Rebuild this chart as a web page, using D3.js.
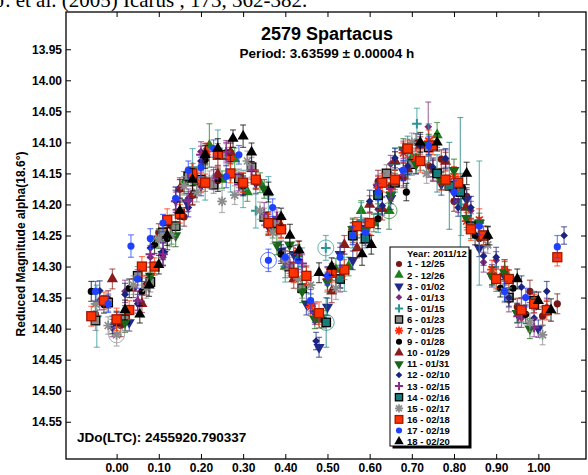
<!DOCTYPE html>
<html>
<head>
<meta charset="utf-8">
<script src="https://cdn.jsdelivr.net/npm/d3@7"></script>
<style>
  body { margin: 0; background: #fff; }
  svg { display: block; font-family: "Liberation Sans", Arial, sans-serif; }
</style>
</head>
<body>
<script>
// [phase, reduced mag, error, ringed]
const s1 = [[-0.05,14.377,0.016],[-0.02,14.353,0.014],[0.01,14.395,0.018],[0.04,14.335,0.015],[0.07,14.33,0.016],[0.10,14.245,0.014],[0.13,14.235,0.018],[0.16,14.22,0.015],[0.56,14.245,0.016],[0.59,14.243,0.014],[0.62,14.163,0.018],[0.65,14.17,0.015],[0.68,14.157,0.016],[0.71,14.10,0.014],[0.74,14.138,0.018],[0.77,14.127,0.015],[0.80,14.195,0.016],[0.83,14.187,0.014],[0.86,14.255,0.018],[0.89,14.315,0.015],[0.92,14.305,0.016],[0.95,14.365,0.014],[0.98,14.34,0.018],[1.01,14.38,0.015],[1.045,14.36,0.016]];
const s2 = [[0.10,14.255,0.016],[0.13,14.25,0.014],[0.16,14.165,0.018],[0.19,14.165,0.015],[0.22,14.105,0.035],[0.25,14.16,0.014],[0.28,14.127,0.018],[0.31,14.18,0.015],[0.34,14.165,0.016],[0.37,14.24,0.014],[0.40,14.30,0.018],[0.43,14.28,0.015],[0.46,14.36,0.016],[0.49,14.385,0.014],[0.52,14.305,0.018],[0.55,14.30,0.015],[0.58,14.21,0.016],[0.61,14.23,0.014],[0.646,14.21,0.030,1],[0.66,14.13,0.015],[0.70,14.125,0.016],[0.76,14.088,0.02]];
const s3 = [[0.00,14.39,0.016],[0.03,14.39,0.014],[0.11,14.28,0.018],[0.167,14.197,0.015],[0.20,14.17,0.016],[0.30,14.17,0.014],[0.33,14.165,0.018],[0.36,14.235,0.015],[0.39,14.275,0.016],[0.42,14.28,0.014],[0.45,14.36,0.018],[0.47,14.375,0.015],[0.48,14.43,0.016],[0.50,14.365,0.014],[0.53,14.28,0.018],[0.56,14.29,0.015],[0.59,14.238,0.016],[0.62,14.173,0.014],[0.65,14.19,0.018],[0.68,14.147,0.015],[0.71,14.135,0.016],[0.74,14.108,0.014],[0.77,14.167,0.018],[0.80,14.18,0.015],[0.83,14.192,0.016],[0.86,14.27,0.014],[0.89,14.315,0.018],[0.92,14.315,0.015],[0.95,14.375,0.016],[1.00,14.40,0.014]];
const s4 = [[-0.04,14.354,0.016],[-0.01,14.399,0.014],[0.02,14.34,0.018],[0.05,14.355,0.015],[0.08,14.285,0.016],[0.11,14.285,0.014],[0.14,14.19,0.018],[0.17,14.19,0.015],[0.20,14.115,0.016],[0.23,14.158,0.014],[0.26,14.115,0.018],[0.29,14.163,0.015],[0.62,14.208,0.016],[0.65,14.135,0.014],[0.68,14.152,0.018],[0.739,14.075,0.040],[0.75,14.145,0.016],[0.78,14.126,0.014],[0.81,14.195,0.018],[0.84,14.21,0.015],[0.87,14.293,0.016],[0.90,14.29,0.014],[0.93,14.355,0.018],[0.96,14.383,0.015],[0.99,14.358,0.016],[1.02,14.365,0.014]];
const s5 = [[-0.047,14.38,0.050],[0.15,14.215,0.025],[0.18,14.14,0.030],[0.21,14.165,0.028],[0.24,14.11,0.030],[0.27,14.155,0.025],[0.30,14.175,0.030],[0.33,14.21,0.028],[0.36,14.185,0.030],[0.40,14.30,0.025],[0.44,14.30,0.030],[0.496,14.27,0.020,1],[0.54,14.31,0.030],[0.58,14.225,0.028],[0.62,14.215,0.030],[0.66,14.135,0.025],[0.69,14.15,0.030],[0.712,14.07,0.025],[0.74,14.10,0.030],[0.817,14.20,0.050],[0.86,14.23,0.100]];
const s6 = [[-0.05,14.387,0.016],[-0.02,14.358,0.014],[0.02,14.385,0.018],[0.05,14.315,0.015],[0.08,14.325,0.016],[0.11,14.245,0.014],[0.14,14.235,0.018],[0.17,14.155,0.015],[0.20,14.16,0.016],[0.23,14.168,0.014],[0.26,14.12,0.018],[0.29,14.158,0.015],[0.32,14.14,0.016],[0.35,14.22,0.014],[0.38,14.23,0.018],[0.41,14.30,0.015],[0.44,14.335,0.016],[0.64,14.15,0.014],[0.70,14.135,0.018],[0.74,14.108,0.015],[0.93,14.35,0.016]];
const s7 = [[0.20,14.165,0.016],[0.214,14.115,0.014],[0.27,14.126,0.018],[0.40,14.29,0.015],[0.43,14.275,0.016],[0.46,14.365,0.014],[0.50,14.32,0.018],[0.53,14.32,0.015],[0.56,14.24,0.016],[0.59,14.243,0.014],[0.62,14.173,0.018],[0.65,14.18,0.015],[0.68,14.117,0.016],[0.71,14.125,0.014],[0.74,14.098,0.018],[0.77,14.162,0.015],[0.80,14.155,0.016],[0.83,14.227,0.014],[0.86,14.225,0.018],[0.89,14.305,0.015],[0.92,14.305,0.016]];
const s9 = [[-0.06,14.34,0.016],[-0.03,14.361,0.014],[0.00,14.39,0.018],[0.03,14.335,0.015],[0.06,14.34,0.016],[0.09,14.265,0.014],[0.12,14.255,0.018],[0.15,14.175,0.015],[0.18,14.185,0.016],[0.21,14.128,0.014],[0.24,14.161,0.018],[0.27,14.116,0.015],[0.30,14.17,0.016],[0.33,14.16,0.014],[0.36,14.23,0.018],[0.39,14.28,0.015],[0.62,14.223,0.016],[0.687,14.18,0.014],[0.82,14.173,0.018],[0.85,14.25,0.015],[0.88,14.252,0.016],[0.91,14.335,0.014],[0.94,14.335,0.018],[0.97,14.377,0.015]];
const s10 = [[-0.01,14.32,0.016],[0.06,14.36,0.014],[0.15,14.175,0.018],[0.18,14.185,0.015],[0.21,14.118,0.016],[0.24,14.151,0.014],[0.27,14.116,0.018],[0.30,14.165,0.015],[0.33,14.16,0.016],[0.36,14.23,0.014],[0.39,14.235,0.018],[0.42,14.32,0.015],[0.45,14.315,0.016],[0.48,14.385,0.014],[0.51,14.34,0.018],[0.54,14.265,0.015],[0.57,14.27,0.016],[0.60,14.20,0.014],[0.63,14.207,0.018],[0.66,14.13,0.015],[0.69,14.143,0.016],[0.72,14.105,0.014],[0.75,14.145,0.018],[0.78,14.131,0.015],[0.80,14.175,0.016],[0.828,14.205,0.02]];
const s11 = [[0.02,14.39,0.016],[0.08,14.315,0.014],[0.14,14.25,0.018],[0.35,14.175,0.015],[0.38,14.265,0.016],[0.41,14.265,0.014],[0.44,14.34,0.018],[0.47,14.385,0.015],[0.50,14.325,0.016],[0.53,14.32,0.014],[0.56,14.24,0.018],[0.59,14.243,0.015],[0.62,14.183,0.016],[0.65,14.185,0.014],[0.68,14.112,0.018],[0.71,14.135,0.015],[0.74,14.103,0.016],[0.77,14.162,0.014],[0.80,14.145,0.018],[0.83,14.222,0.015],[0.86,14.23,0.016],[0.89,14.315,0.014],[0.92,14.31,0.018],[0.95,14.375,0.015],[0.98,14.40,0.016]];
const s12 = [[-0.04,14.339,0.016],[-0.01,14.394,0.014],[0.02,14.345,0.018],[0.05,14.36,0.015],[0.08,14.27,0.016],[0.11,14.275,0.014],[0.14,14.195,0.018],[0.17,14.205,0.015],[0.20,14.13,0.016],[0.473,14.42,0.014],[0.60,14.195,0.018],[0.63,14.202,0.015],[0.66,14.125,0.016],[0.69,14.138,0.014],[0.72,14.105,0.018],[0.75,14.14,0.015],[0.78,14.126,0.016],[0.81,14.205,0.014],[0.84,14.205,0.018],[0.87,14.283,0.015],[0.90,14.285,0.016],[0.93,14.35,0.014],[0.96,14.333,0.018],[0.99,14.383,0.015],[1.02,14.34,0.016],[1.061,14.25,0.014]];
const s13 = [[0.05,14.355,0.016],[0.08,14.28,0.014],[0.11,14.28,0.018],[0.14,14.195,0.015],[0.17,14.195,0.016],[0.20,14.12,0.014],[0.23,14.158,0.018],[0.26,14.115,0.015],[0.29,14.168,0.016],[0.32,14.145,0.014],[0.35,14.215,0.018],[0.38,14.22,0.015],[0.41,14.295,0.016],[0.44,14.295,0.014],[0.47,14.375,0.018],[0.50,14.315,0.015],[0.53,14.325,0.016],[0.56,14.25,0.014],[0.59,14.248,0.018],[0.62,14.168,0.015],[0.65,14.175,0.016],[0.68,14.112,0.014],[0.952,14.38,0.018],[0.99,14.398,0.015]];
const s14 = [[0.497,14.39,0.040,1],[0.53,14.32,0.015],[0.56,14.25,0.02],[0.59,14.255,0.015],[0.62,14.185,0.02],[0.66,14.165,0.015],[0.69,14.11,0.02],[0.72,14.13,0.015],[0.76,14.15,0.03],[0.789,14.17,0.07],[0.815,14.18,0.12],[0.84,14.235,0.02],[0.87,14.25,0.015],[0.90,14.32,0.02],[0.93,14.32,0.015],[0.96,14.37,0.02],[0.99,14.355,0.015]];
const s15 = [[-0.05,14.36,0.016],[-0.02,14.395,0.014],[0.00,14.41,0.018,1],[0.04,14.33,0.015],[0.07,14.335,0.016],[0.10,14.255,0.014],[0.13,14.25,0.018],[0.16,14.17,0.015],[0.19,14.18,0.016],[0.22,14.16,0.014],[0.25,14.195,0.018],[0.28,14.185,0.015],[0.31,14.13,0.016],[0.34,14.21,0.014],[0.37,14.245,0.018],[0.40,14.29,0.015],[0.43,14.32,0.016],[0.46,14.33,0.014],[0.52,14.335,0.018],[0.70,14.10,0.015],[0.735,14.15,0.016],[0.88,14.265,0.014],[0.92,14.34,0.018],[0.98,14.39,0.015],[1.01,14.41,0.016]];
const s16 = [[-0.06,14.38,0.016],[-0.03,14.355,0.014],[0.00,14.385,0.018],[0.03,14.37,0.015],[0.06,14.30,0.016],[0.09,14.30,0.014],[0.12,14.225,0.018],[0.15,14.215,0.015],[0.18,14.15,0.016],[0.21,14.165,0.014],[0.24,14.12,0.018],[0.27,14.15,0.015],[0.30,14.165,0.016],[0.33,14.16,0.014],[0.36,14.23,0.018],[0.39,14.24,0.015],[0.42,14.31,0.016],[0.45,14.315,0.014],[0.48,14.375,0.018],[0.51,14.31,0.015],[0.54,14.305,0.016],[0.57,14.235,0.014],[0.60,14.23,0.018],[0.63,14.165,0.015],[0.66,14.16,0.016],[0.69,14.11,0.014],[0.72,14.13,0.018],[0.75,14.105,0.015],[0.78,14.16,0.016],[0.81,14.165,0.014],[0.84,14.24,0.018],[0.87,14.25,0.015],[0.90,14.32,0.016],[0.93,14.32,0.014],[0.96,14.37,0.018],[0.99,14.36,0.015],[1.02,14.37,0.016],[1.045,14.285,0.014]];
const s17 = [[-0.05,14.34,0.016],[-0.02,14.36,0.014],[0.034,14.267,0.018],[0.05,14.32,0.015],[0.08,14.255,0.016],[0.11,14.23,0.014],[0.14,14.19,0.018],[0.17,14.145,0.015],[0.20,14.14,0.016],[0.23,14.11,0.014],[0.26,14.155,0.018],[0.29,14.12,0.015],[0.36,14.29,0.018,1],[0.37,14.205,0.014],[0.40,14.285,0.016],[0.43,14.29,0.015],[0.46,14.355,0.018],[0.50,14.315,0.014],[0.53,14.285,0.016],[0.56,14.25,0.015],[0.59,14.245,0.018],[0.62,14.18,0.014],[0.68,14.145,0.016],[0.74,14.105,0.015],[0.80,14.18,0.018],[0.86,14.235,0.014],[0.92,14.34,0.016],[0.97,14.35,0.015],[1.045,14.268,0.018]];
const s18 = [[0.02,14.37,0.016],[0.055,14.377,0.014],[0.077,14.33,0.018],[0.10,14.297,0.015],[0.12,14.25,0.016],[0.15,14.21,0.014],[0.18,14.16,0.018],[0.21,14.12,0.015],[0.24,14.11,0.016],[0.276,14.094,0.014],[0.30,14.09,0.018],[0.32,14.116,0.015],[0.36,14.18,0.016],[0.39,14.22,0.014],[0.411,14.25,0.018],[0.433,14.274,0.015],[0.48,14.31,0.016],[0.51,14.30,0.014],[0.582,14.28,0.018],[0.604,14.265,0.015],[0.72,14.10,0.016],[0.76,14.10,0.014],[0.83,14.15,0.018],[0.88,14.25,0.015],[0.95,14.32,0.016],[1.00,14.355,0.014],[1.03,14.37,0.018]];

const legendLabels = ['1 - 12/25','2 - 12/26','3 - 01/02','4 - 01/13','5 - 01/15','6 - 01/23','7 - 01/25','9 - 01/28','10 - 01/29','11 - 01/31','12 - 02/10','13 - 02/15','14 - 02/16','15 - 02/17','16 - 02/18','17 - 02/19','18 - 02/20'];
const xTicks = [0, 0.1, 0.2, 0.3, 0.4, 0.5, 0.6, 0.7, 0.8, 0.9, 1.0];
const yTicks = [13.95, 14.00, 14.05, 14.10, 14.15, 14.20, 14.25, 14.30, 14.35, 14.40, 14.45, 14.50, 14.55];

// marker style per session
const styles = [
  { shape: 'circle', color: '#7a1616' },
  { shape: 'triUp', color: '#1f7f1f' },
  { shape: 'triDown', color: '#1f2a8c' },
  { shape: 'diamond', color: '#7a2c7a' },
  { shape: 'plus', color: '#2a9696' },
  { shape: 'square', color: '#8a8a8a', stroke: '#000', bar: '#777' },
  { shape: 'star', color: '#ff2a0a' },
  { shape: 'circle', color: '#000000' },
  { shape: 'triUp', color: '#8b1a1a' },
  { shape: 'triDown', color: '#196619' },
  { shape: 'diamond', color: '#1a237e' },
  { shape: 'plus', color: '#8a2a8a' },
  { shape: 'square', color: '#167c7c', stroke: '#000' },
  { shape: 'star', color: '#8c8c8c' },
  { shape: 'square', color: '#ff3300', stroke: '#a01800', big: true },
  { shape: 'circle', color: '#1e40ff' },
  { shape: 'triUp', color: '#000000' }
];
const sessions = [s1, s2, s3, s4, s5, s6, s7, s9, s10, s11, s12, s13, s14, s15, s16, s17, s18];

const W = 588, H = 475;
const frame = { left: 66, right: 586, top: 12, bottom: 459 };

const svg = d3.select('body').append('svg')
  .attr('width', W)
  .attr('height', H);

const x = d3.scaleLinear().domain([-0.12, 1.113]).range([frame.left, frame.right]);
const y = d3.scaleLinear().domain([13.89, 14.61]).range([frame.top, frame.bottom]);

// cut-off reference line above the plot
svg.append('text')
  .attr('x', -3)
  .attr('y', 7)
  .style('font-family', '"Liberation Serif", "Times New Roman", serif')
  .style('font-size', '21px')
  .text('J. et al. (2005) Icarus , 173, 362-382.');

function drawMarker(g, st, cx, cy, scale) {
  const k = scale || 1;
  const t = `translate(${cx},${cy})`;
  if (st.shape === 'circle') {
    g.append('circle').attr('cx', cx).attr('cy', cy).attr('r', 3.6 * k).attr('fill', st.color);
  } else if (st.shape === 'triUp' || st.shape === 'triDown') {
    g.append('path').attr('d', d3.symbol(d3.symbolTriangle, 54 * k * k)())
      .attr('transform', t + (st.shape === 'triDown' ? ' rotate(180)' : ''))
      .attr('fill', st.color);
  } else if (st.shape === 'diamond') {
    g.append('path').attr('d', d3.symbol(d3.symbolSquare, 30 * k * k)())
      .attr('transform', t + ' rotate(45)')
      .attr('fill', st.color);
  } else if (st.shape === 'square') {
    const s = (st.big ? 9 : 8.5) * k;
    g.append('rect').attr('x', cx - s / 2).attr('y', cy - s / 2)
      .attr('width', s).attr('height', s)
      .attr('fill', st.color).attr('stroke', st.stroke).attr('stroke-width', 1.3);
  } else if (st.shape === 'plus') {
    const s = 4.8 * k;
    g.append('path').attr('d', `M${-s},0H${s}M0,${-s}V${s}`)
      .attr('transform', t).attr('stroke', st.color).attr('stroke-width', 2);
  } else if (st.shape === 'star') {
    const s = 4.8 * k, d = 3.5 * k;
    g.append('path').attr('d', `M${-s},0H${s}M0,${-s}V${s}M${-d},${-d}L${d},${d}M${-d},${d}L${d},${-d}`)
      .attr('transform', t).attr('stroke', st.color).attr('stroke-width', 1.7);
  }
}

// points with error bars
const plot = svg.append('g');
sessions.forEach((data, i) => {
  const st = styles[i];
  const g = plot.append('g');
  data.forEach(d => {
    const cx = x(d[0]);
    const y0 = y(d[1] - d[2]);
    const y1 = y(d[1] + d[2]);
    const eb = g.append('g').attr('stroke', st.bar || st.color).attr('stroke-opacity', 0.65).attr('stroke-width', 1.2);
    eb.append('line').attr('x1', cx).attr('x2', cx).attr('y1', y0).attr('y2', y1);
    eb.append('line').attr('x1', cx - 3).attr('x2', cx + 3).attr('y1', y0).attr('y2', y0);
    eb.append('line').attr('x1', cx - 3).attr('x2', cx + 3).attr('y1', y1).attr('y2', y1);
  });
  data.forEach(d => {
    const cx = x(d[0]), cy = y(d[1]);
    if (d[3]) {
      g.append('circle').attr('cx', cx).attr('cy', cy).attr('r', 8)
        .attr('fill', 'none').attr('stroke', st.color).attr('stroke-opacity', 0.7);
    }
    drawMarker(g, st, cx, cy);
  });
});

// axes on all four sides, ticks pointing inwards
const fmt = d3.format('.2f');
const xAxis = svg.append('g')
  .attr('transform', `translate(0,${frame.bottom})`)
  .call(d3.axisBottom(x).tickValues(xTicks).tickFormat(fmt).tickSize(-5).tickSizeOuter(0).tickPadding(4));
const yAxis = svg.append('g')
  .attr('transform', `translate(${frame.left},0)`)
  .call(d3.axisLeft(y).tickValues(yTicks).tickFormat(fmt).tickSize(-5).tickSizeOuter(0).tickPadding(4));
svg.append('g')
  .attr('transform', `translate(0,${frame.top})`)
  .call(d3.axisTop(x).tickValues(xTicks).tickFormat('').tickSize(-5).tickSizeOuter(0));
svg.append('g')
  .attr('transform', `translate(${frame.right},0)`)
  .call(d3.axisRight(y).tickValues(yTicks).tickFormat('').tickSize(-5).tickSizeOuter(0));

svg.selectAll('.domain').remove();
svg.selectAll('.tick line').attr('stroke', '#000').attr('stroke-width', 1);
[xAxis, yAxis].forEach(a => a.selectAll('text')
  .attr('fill', '#000')
  .style('font-family', '"Liberation Sans", Arial, sans-serif')
  .style('font-size', '12px')
  .style('font-weight', 'bold'));

svg.append('rect')
  .attr('x', frame.left).attr('y', frame.top)
  .attr('width', frame.right - frame.left).attr('height', frame.bottom - frame.top)
  .attr('fill', 'none').attr('stroke', '#000').attr('stroke-width', 1.3);

// titles
svg.append('text')
  .attr('x', 327).attr('y', 40)
  .attr('text-anchor', 'middle')
  .style('font-size', '18px').style('font-weight', 'bold')
  .text('2579 Spartacus');
svg.append('text')
  .attr('x', 327).attr('y', 58)
  .attr('text-anchor', 'middle')
  .style('font-size', '13.5px').style('font-weight', 'bold')
  .text('Period: 3.63599 \u00b1 0.00004 h');

svg.append('text')
  .attr('transform', 'translate(25,244) rotate(-90)')
  .attr('text-anchor', 'middle')
  .style('font-size', '12px').style('font-weight', 'bold')
  .text('Reduced Magnitude alpha(18.6\u00b0)');

svg.append('text')
  .attr('x', 77).attr('y', 442)
  .style('font-size', '13.5px').style('font-weight', 'bold')
  .text('JDo(LTC): 2455920.790337');

// legend
const lg = svg.append('g');
const lx = 390, ly = 247, lw = 79, lh = 199;
lg.append('rect').attr('x', lx + 2.5).attr('y', ly + 2.5).attr('width', lw).attr('height', lh).attr('fill', '#000');
lg.append('rect').attr('x', lx).attr('y', ly).attr('width', lw).attr('height', lh)
  .attr('fill', '#fff').attr('stroke', '#000').attr('stroke-width', 1);
lg.append('text')
  .attr('x', lx + 17).attr('y', ly + 9.5)
  .style('font-size', '9.5px').style('font-weight', 'bold')
  .text('Year: 2011/12');
legendLabels.forEach((label, i) => {
  const cy = ly + 17 + i * 11.1;
  drawMarker(lg, styles[i], lx + 9, cy, 0.85);
  lg.append('text')
    .attr('x', lx + 17).attr('y', cy + 3.4)
    .style('font-size', '9.5px').style('font-weight', 'bold')
    .text(label);
});
</script>
</body>
</html>
